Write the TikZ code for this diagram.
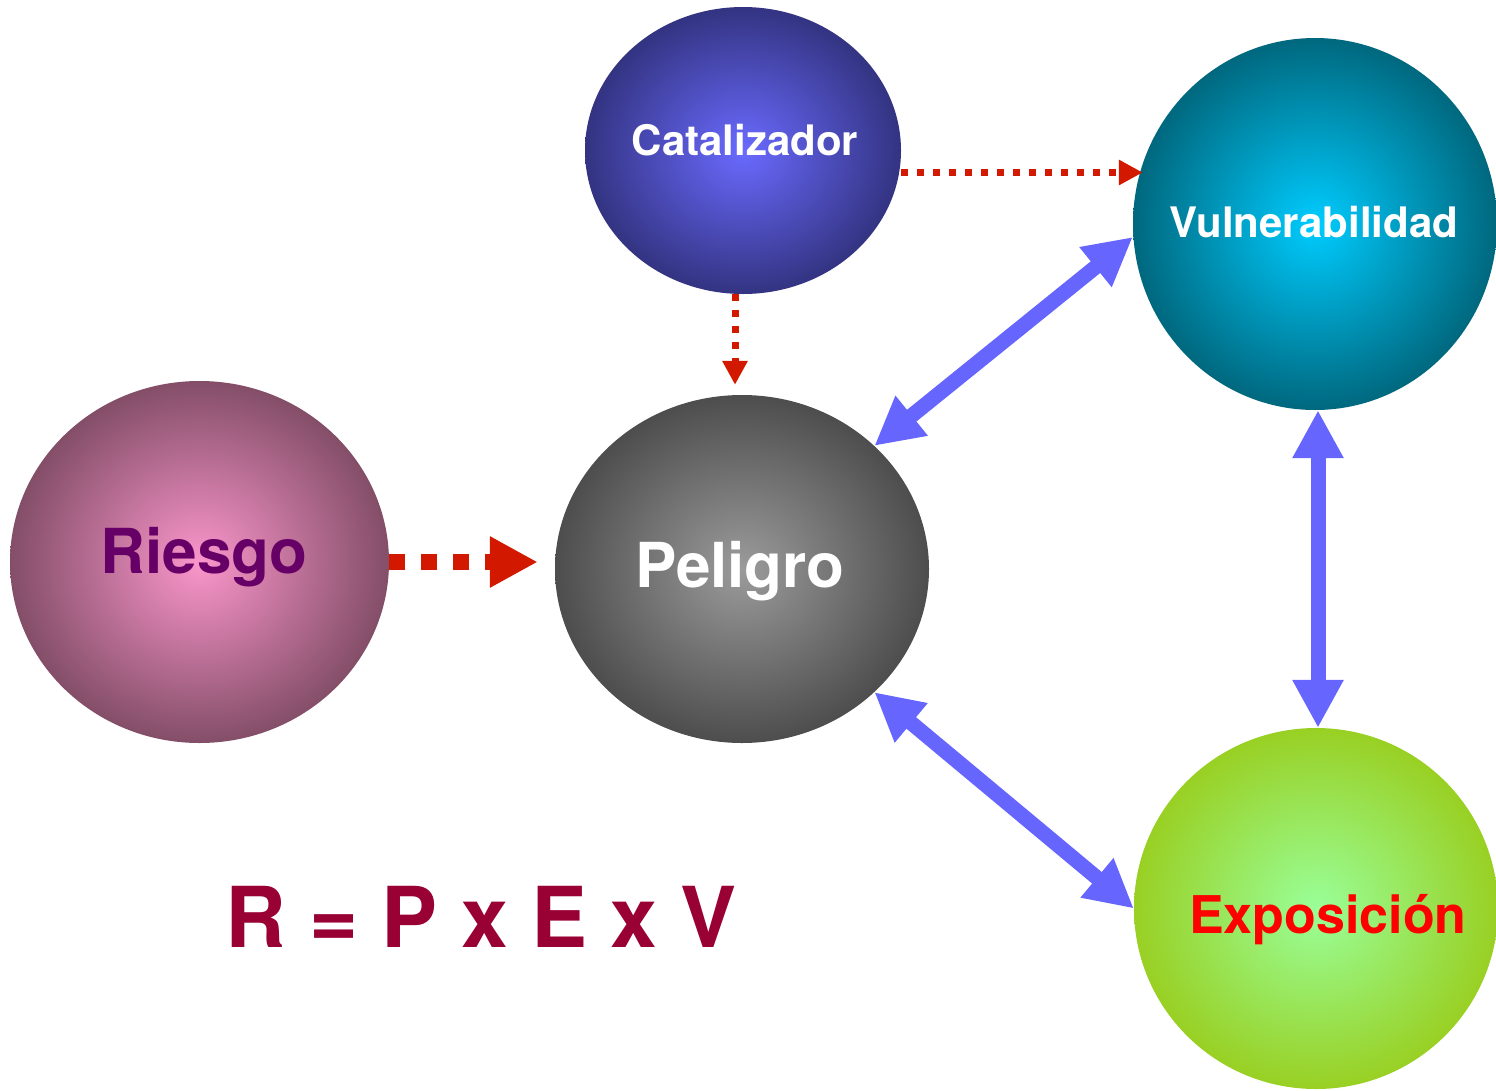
\documentclass[tikz,border=0pt]{standalone}
\usepackage{fontspec}
\setmainfont{TeX Gyre Heros}
\usetikzlibrary{arrows.meta, shapes.geometric}

\definecolor{catalin}{RGB}{106,106,255}
\definecolor{catalout}{RGB}{47,47,120}
\definecolor{vulnin}{RGB}{0,204,255}
\definecolor{vulnout}{RGB}{0,96,116}
\definecolor{riesgoin}{RGB}{250,150,203}
\definecolor{riesgoout}{RGB}{122,72,96}
\definecolor{peligroin}{RGB}{155,155,155}
\definecolor{peligroout}{RGB}{71,71,71}
\definecolor{expoin}{RGB}{153,255,153}
\definecolor{expoout}{RGB}{153,204,26}
\definecolor{arrowred}{RGB}{210,25,0}
\definecolor{arrowblue}{RGB}{102,102,255}
\definecolor{riesgotext}{RGB}{102,0,102}
\definecolor{formulatext}{RGB}{153,0,51}

\pgfdeclareradialshading{catalshade}{\pgfpoint{0bp}{0bp}}{color(0bp)=(catalin); color(27bp)=(catalout); color(50bp)=(catalout)}
\pgfdeclareradialshading{vulnshade}{\pgfpoint{0bp}{0bp}}{color(0bp)=(vulnin); color(27bp)=(vulnout); color(50bp)=(vulnout)}
\pgfdeclareradialshading{riesgoshade}{\pgfpoint{0bp}{0bp}}{color(0bp)=(riesgoin); color(27bp)=(riesgoout); color(50bp)=(riesgoout)}
\pgfdeclareradialshading{peligroshade}{\pgfpoint{0bp}{0bp}}{color(0bp)=(peligroin); color(27bp)=(peligroout); color(50bp)=(peligroout)}
\pgfdeclareradialshading{exposhade}{\pgfpoint{0bp}{0bp}}{color(0bp)=(expoin); color(27bp)=(expoout); color(50bp)=(expoout)}

\tikzset{
  orb/.style={ellipse, inner sep=0pt},
  lbl/.style={anchor=base, font=\bfseries},
  reddot/.style={arrowred, line width=7pt, dash pattern=on 7pt off 9pt,
    -{Triangle[length=24pt, width=24pt]}},
  reddash/.style={arrowred, line width=16pt, dash pattern=on 16pt off 16pt,
    -{Triangle[length=48pt, width=48pt]}},
  twoway/.style={arrowblue, line width=15pt,
    {Triangle[length=48pt, width=48pt]}-{Triangle[length=48pt, width=48pt]}}
}

\begin{document}
\begin{tikzpicture}[x=1pt, y=-1pt]
  \useasboundingbox (0,0) rectangle (1496,1090);

  \node (catal) [orb, shading=catalshade, minimum width=316pt, minimum height=287pt] at (743,150.5) {};
  \node (vuln) [orb, shading=vulnshade, minimum width=364pt, minimum height=372pt] at (1315,224) {};
  \node (riesgo) [orb, shading=riesgoshade, minimum width=379pt, minimum height=362pt] at (199.5,562) {};
  \node (peligro) [orb, shading=peligroshade, minimum width=374pt, minimum height=348pt] at (742,569) {};
  \node (expo) [orb, shading=exposhade, minimum width=364pt, minimum height=361pt] at (1316,908.5) {};

  \node (tcatal) [lbl, text=white, font=\bfseries\fontsize{42}{50}\selectfont] at (745,155) {Catalizador};
  \node (tvuln) [lbl, text=white, font=\bfseries\fontsize{42}{50}\selectfont] at (1314,237) {Vulnerabilidad};
  \node (triesgo) [lbl, text=riesgotext, font=\bfseries\fontsize{62}{70}\selectfont] at (204,573) {Riesgo};
  \node (tpeligro) [lbl, text=white, font=\bfseries\fontsize{62}{70}\selectfont] at (740,587) {Peligro};
  \node (texpo) [lbl, text=red, font=\bfseries\fontsize{52}{60}\selectfont] at (1328,933) {Exposición};
  \node (formula) [lbl, text=formulatext, font=\bfseries\fontsize{84}{92}\selectfont] at (481,947) {R = P x E x V};

  \path
    ([xshift=-8pt]catal.south) edge [reddot, shorten >=10pt] ([xshift=-7pt]peligro.north)
    ([yshift=-22pt]catal.east) edge [reddot] ([yshift=-22pt, xshift=10pt]catal.east -| vuln.west)
    (riesgo.east) edge [reddash, shorten >=17pt] (riesgo.east -| peligro.west)
    (peligro.north east) edge [twoway] ([yshift=-13pt]vuln.west)
    ([xshift=3pt]vuln.south) edge [twoway] ([xshift=2pt]expo.north)
    (peligro.south east) edge [twoway] (expo.west);
\end{tikzpicture}
\end{document}
